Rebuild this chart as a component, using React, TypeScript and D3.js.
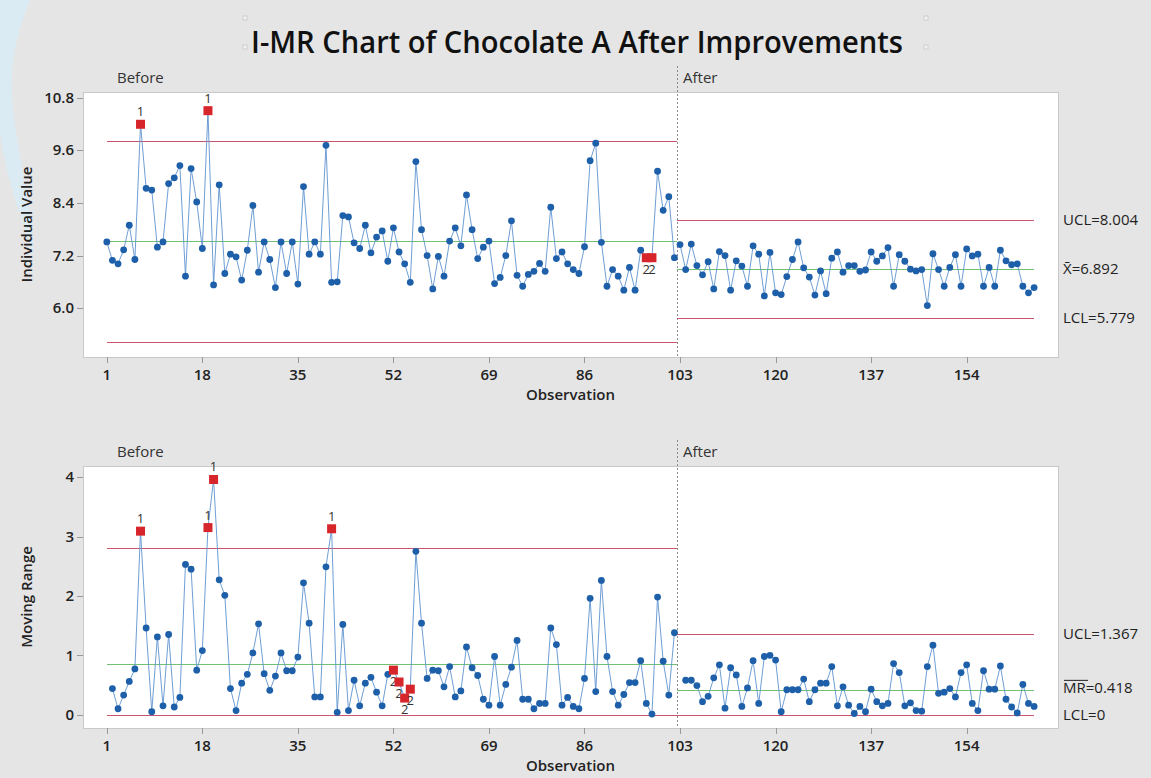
import React from "react";
import * as d3 from "d3";

// ---------- DATA ----------
const stageNames = ["Before", "After"];
const beforeValues = [
  7.51, 7.09, 7.01, 7.33, 7.89, 7.11, 10.19, 8.73, 8.69, 7.39,
  7.51, 8.84, 8.97, 9.25, 6.73, 9.18, 8.42, 7.36, 10.5, 6.53,
  8.81, 6.79, 7.23, 7.17, 6.64, 7.32, 8.34, 6.82, 7.51, 7.11,
  6.47, 7.51, 6.79, 7.51, 6.55, 8.77, 7.23, 7.51, 7.23, 9.71,
  6.59, 6.6, 8.11, 8.08, 7.49, 7.36, 7.89, 7.26, 7.62, 7.76,
  7.07, 7.83, 7.28, 7.01, 6.59, 9.34, 7.79, 7.2, 6.44, 7.18,
  6.73, 7.53, 7.83, 7.42, 8.58, 7.79, 7.13, 7.39, 7.53, 6.56,
  6.7, 7.2, 7.99, 6.75, 6.5, 6.77, 6.84, 7.02, 6.84, 8.3,
  7.13, 7.28, 7.01, 6.88, 6.79, 7.4, 9.36, 9.76, 7.5, 6.5,
  6.88, 6.73, 6.41, 6.93, 6.41, 7.32, 7.15, 7.15, 9.12, 8.23,
  8.54, 7.15,
];
const afterValues = [
  7.45, 6.88, 7.46, 6.97, 6.76, 7.06, 6.44, 7.29, 7.2, 6.41,
  7.08, 6.96, 6.5, 7.42, 7.23, 6.28, 7.27, 6.35, 6.31, 6.72,
  7.11, 7.51, 6.92, 6.71, 6.3, 6.85, 6.33, 7.14, 7.28, 6.82,
  6.97, 6.97, 6.84, 6.87, 7.28, 7.07, 7.19, 7.38, 6.5, 7.22,
  7.07, 6.89, 6.85, 6.88, 6.06, 7.24, 6.88, 6.5, 6.93, 7.22,
  6.5, 7.35, 7.19, 7.23, 6.5, 6.93, 6.5, 7.32, 7.08, 6.99,
  7.01, 6.5, 6.35, 6.47,
];
// moving ranges, starting at the second observation of each stage
const beforeMR = [
  0.44, 0.1, 0.33, 0.56, 0.77, 3.09, 1.46, 0.05, 1.31, 0.15,
  1.35, 0.13, 0.29, 2.53, 2.45, 0.75, 1.08, 3.15, 3.96, 2.27,
  2.01, 0.44, 0.07, 0.53, 0.68, 1.04, 1.53, 0.69, 0.41, 0.65,
  1.04, 0.74, 0.74, 0.97, 2.22, 1.54, 0.3, 0.3, 2.49, 3.13,
  0.04, 1.52, 0.07, 0.58, 0.15, 0.53, 0.63, 0.38, 0.15, 0.68,
  0.75, 0.55, 0.28, 0.43, 2.75, 1.54, 0.61, 0.75, 0.74, 0.47,
  0.81, 0.3, 0.4, 1.14, 0.79, 0.66, 0.26, 0.16, 0.98, 0.16,
  0.51, 0.8, 1.25, 0.26, 0.26, 0.1, 0.19, 0.19, 1.46, 1.18,
  0.16, 0.29, 0.14, 0.1, 0.61, 1.96, 0.39, 2.26, 0.98, 0.39,
  0.16, 0.34, 0.54, 0.54, 0.91, 0.19, 0.01, 1.98, 0.9, 0.33,
  1.38,
];
const afterMR = [
  0.58, 0.58, 0.49, 0.22, 0.31, 0.62, 0.84, 0.11, 0.79, 0.67,
  0.14, 0.45, 0.91, 0.19, 0.98, 1.0, 0.92, 0.05, 0.42, 0.42,
  0.42, 0.6, 0.22, 0.42, 0.53, 0.53, 0.81, 0.15, 0.47, 0.16,
  0.02, 0.14, 0.05, 0.43, 0.22, 0.15, 0.19, 0.86, 0.71, 0.15,
  0.2, 0.07, 0.06, 0.81, 1.17, 0.36, 0.38, 0.44, 0.3, 0.71,
  0.84, 0.19, 0.07, 0.74, 0.43, 0.43, 0.82, 0.26, 0.13, 0.03,
  0.51, 0.19, 0.14,
];
// control limits per stage: [LCL, CL, UCL]
const beforeILimits = [5.24, 7.53, 9.815];
const afterILimits = [5.779, 6.892, 8.004];
const beforeMRLimits = [0, 0.86, 2.81];
const afterMRLimits = [0, 0.418, 1.367];
// flagged points (observation number, test number)
const iFlags = [[7, "1"], [19, "1"], [97, "2"], [98, "2"]];
const mrFlags = [[7, "1"], [19, "1"], [20, "1"], [41, "1"], [52, "2"], [53, "2"], [54, "2"], [55, "2"]];
const xTicks = [1, 18, 35, 52, 69, 86, 103, 120, 137, 154];
const iTicks = [6.0, 7.2, 8.4, 9.6, 10.8];
const mrTicks = [0, 1, 2, 3, 4];

// ---------- LAYOUT ----------
const W = 1151, H = 778;
const FONT = "'Open Sans', 'Noto Sans', sans-serif";
const PL = 83, PR = 1058;
const top1 = 92, bot1 = 357;
const top2 = 466, bot2 = 728;
const nBefore = beforeValues.length;
const nTotal = nBefore + afterValues.length;

const x = d3.scaleLinear().domain([1, nTotal]).range([106.8, 1034.1]);
const yI = d3.scaleLinear().domain([6, 10.8]).range([308.2, 97.5]);
const yM = d3.scaleLinear().domain([0, 4]).range([714.7, 477.1]);

const C = {
  bg: "#e5e5e5",
  dot: "#1d5fa8",
  line: "#5e93cf",
  limit: "#c8566e",
  center: "#72c072",
  flag: "#d7262b",
  text: "#222",
};

type P = { obs: number; v: number };

function stagePoints(vals: number[], startObs: number): P[] {
  return vals.map((v, i) => ({ obs: startObs + i, v }));
}

const px = (v: number) => Math.round(v) + 0.5;

function Panel({ y, top, bot, stages, limits, flags, ticks, tickFmt, yLabel, rightLabels }: any) {
  const line = d3.line<P>().x((d) => x(d.obs)).y((d) => y(d.v));
  const split = x(nBefore + 0.5);
  const allPts: P[] = stages.flat();
  const flagMap = new Map(flags.map((f: any) => [f[0], f[1]]));
  const stageRanges = [[x(1), split], [split, x(nTotal)]];
  const limLine = (x1: number, x2: number, v: number, color: string, k: string) => (
    <line key={k} x1={x1} x2={x2} y1={px(y(v))} y2={px(y(v))} stroke={color} strokeWidth={1} shapeRendering="crispEdges" />
  );
  return (
    <g>
      <rect x={PL + 0.5} y={top + 0.5} width={PR - PL} height={bot - top} fill="#fff" stroke="#c9c9c9" strokeWidth={1} shapeRendering="crispEdges" />
      {/* stage labels */}
      <text x={117} y={top - 9} fontSize={15} fill="#333" fontFamily={FONT}>{stageNames[0]}</text>
      <text x={683} y={top - 9} fontSize={15} fill="#333" fontFamily={FONT}>{stageNames[1]}</text>
      <line x1={px(split)} x2={px(split)} y1={top - 26} y2={bot} stroke="#8a8a8a" strokeDasharray="2,2" strokeWidth={1} shapeRendering="crispEdges" />
      {/* y ticks */}
      {ticks.map((t: number) => (
        <g key={t}>
          <line x1={PL - 6} x2={PL} y1={px(y(t))} y2={px(y(t))} stroke="#999" shapeRendering="crispEdges" />
          <text x={PL - 9} y={y(t)} dy="0.35em" textAnchor="end" fontSize={15} fontWeight={600} fill={C.text} fontFamily={FONT}>
            {tickFmt(t)}
          </text>
        </g>
      ))}
      {/* x ticks */}
      {xTicks.map((t) => (
        <g key={t}>
          <line x1={px(x(t))} x2={px(x(t))} y1={bot} y2={bot + 6} stroke="#999" shapeRendering="crispEdges" />
          <text x={x(t)} y={bot + 23} textAnchor="middle" fontSize={15} fontWeight={600} fill={C.text} fontFamily={FONT}>
            {t}
          </text>
        </g>
      ))}
      <text x={(PL + PR) / 2} y={bot + 43} textAnchor="middle" fontSize={15} fontWeight={600} fill={C.text} fontFamily={FONT}>
        Observation
      </text>
      <text transform={`translate(32,${(top + bot) / 2}) rotate(-90)`} textAnchor="middle" fontSize={15} fontWeight={600} fill={C.text} fontFamily={FONT}>
        {yLabel}
      </text>
      {/* limits */}
      {limits.map((lim: number[], si: number) => (
        <g key={si}>
          {limLine(stageRanges[si][0], stageRanges[si][1], lim[2], C.limit, "u")}
          {limLine(stageRanges[si][0], stageRanges[si][1], lim[1], C.center, "c")}
          {limLine(stageRanges[si][0], stageRanges[si][1], lim[0], C.limit, "l")}
        </g>
      ))}
      {/* data lines */}
      {stages.map((pts: P[], si: number) => (
        <path key={si} d={line(pts) || ""} fill="none" stroke={C.line} strokeWidth={0.9} />
      ))}
      {/* points */}
      {allPts.map((d) =>
        flagMap.has(d.obs) ? null : <circle key={d.obs} cx={x(d.obs)} cy={y(d.v)} r={3.4} fill={C.dot} />
      )}
      {allPts.map((d) => {
        if (!flagMap.has(d.obs)) return null;
        const lim = d.obs <= nBefore ? limits[0] : limits[1];
        const above = d.v > lim[1];
        return (
          <g key={"f" + d.obs}>
            <rect x={x(d.obs) - 4.5} y={y(d.v) - 4.5} width={9} height={9} fill={C.flag} />
            <text x={x(d.obs)} y={above ? y(d.v) - 8 : y(d.v) + 16} textAnchor="middle" fontSize={13} fill="#333" fontFamily={FONT}>
              {flagMap.get(d.obs) as string}
            </text>
          </g>
        );
      })}
      {/* right labels */}
      {rightLabels.map((r: any, i: number) => (
        <g key={i}>
          {r.bar ? <line x1={1064} x2={1064 + r.bar} y1={r.y - 7.5} y2={r.y - 7.5} stroke={C.text} strokeWidth={1} /> : null}
          <text x={1063} y={r.y} dy="0.35em" fontSize={15} fill={C.text} fontFamily={FONT}>
            {r.content}
          </text>
        </g>
      ))}
    </g>
  );
}

export default function App() {
  const iStages = [stagePoints(beforeValues, 1), stagePoints(afterValues, nBefore + 1)];
  const mrStages = [stagePoints(beforeMR, 2), stagePoints(afterMR, nBefore + 2)];
  const fmt3 = (v: number) => v.toFixed(3);
  return (
    <svg width={W} height={H} style={{ position: "absolute", left: 0, top: 0, display: "block" }}>
      <rect width={W} height={H} fill={C.bg} />
      <path d="M0,0 L30,0 C18,30 10,60 12,95 C14,140 30,190 34,255 C20,215 4,170 0,130 Z" fill="#d7ecf7" opacity={0.8} />
      {[[245, 18], [926, 18], [245, 47], [926, 47]].map((p, i) => (
        <rect key={i} x={p[0] - 2} y={p[1] - 2} width={4} height={4} fill="#f2f2f2" stroke="#bbb" strokeWidth={0.6} />
      ))}
      <text x={577} y={53} textAnchor="middle" fontSize={30} fontWeight={600} fill="#111" fontFamily={FONT} textLength={652} lengthAdjust="spacingAndGlyphs">
        I-MR Chart of Chocolate A After Improvements
      </text>
      <Panel
        y={yI}
        top={top1}
        bot={bot1}
        stages={iStages}
        limits={[beforeILimits, afterILimits]}
        flags={iFlags}
        ticks={iTicks}
        tickFmt={(t: number) => t.toFixed(1)}
        yLabel="Individual Value"
        rightLabels={[
          { y: yI(afterILimits[2]), content: `UCL=${fmt3(afterILimits[2])}` },
          { y: yI(afterILimits[1]), content: `X\u0304=${fmt3(afterILimits[1])}` },
          { y: yI(afterILimits[0]), content: `LCL=${fmt3(afterILimits[0])}` },
        ]}
      />
      <Panel
        y={yM}
        top={top2}
        bot={bot2}
        stages={mrStages}
        limits={[beforeMRLimits, afterMRLimits]}
        flags={mrFlags}
        ticks={mrTicks}
        tickFmt={(t: number) => String(t)}
        yLabel="Moving Range"
        rightLabels={[
          { y: yM(afterMRLimits[2]), content: `UCL=${fmt3(afterMRLimits[2])}` },
          { y: yM(afterMRLimits[1]) - 2, bar: 24, content: `MR=${fmt3(afterMRLimits[1])}` },
          { y: yM(afterMRLimits[0]), content: `LCL=${afterMRLimits[0]}` },
        ]}
      />
    </svg>
  );
}
